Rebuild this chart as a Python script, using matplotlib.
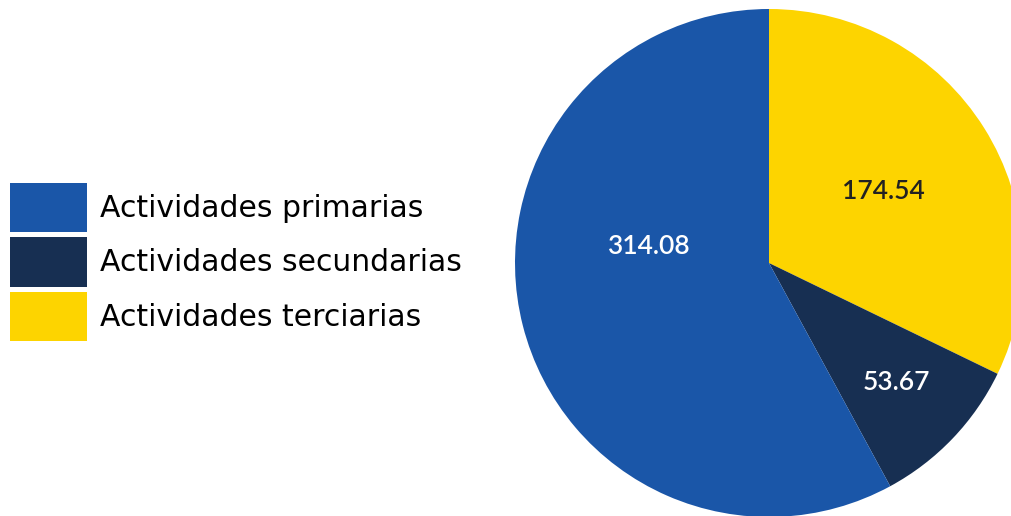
import matplotlib.pyplot as plt
import numpy as np

# slice data, in drawing order (clockwise from the top)
sectors = ["Actividades terciarias", "Actividades secundarias", "Actividades primarias"]
values = [174.54, 53.67, 314.08]
value_labels = ["174.54", "53.67", "314.08"]
colors = ["#fdd400", "#172f52", "#1a56a8"]
text_colors = ["#222222", "white", "white"]

# legend order as in the picture
legend_order = ["Actividades primarias", "Actividades secundarias", "Actividades terciarias"]

plt.rcParams["font.family"] = ["DejaVu Sans"]

fig = plt.figure(figsize=(10.12, 5.16), dpi=100)
W, H = 1012, 516
cx, cy, r = 769, 263, 254
ax = fig.add_axes([(cx - r) / W, (H - cy - r) / H, 2 * r / W, 2 * r / H])

wedges, _ = ax.pie(
    values,
    colors=colors,
    startangle=90,
    counterclock=False,
    radius=1,
    wedgeprops={"linewidth": 0},
)
ax.set_xlim(-1, 1)
ax.set_ylim(-1, 1)
ax.set_aspect("equal")
ax.axis("off")

# label placement: distance from centre and small angular nudge per slice
label_dist = [0.53, 0.69, 0.48]
label_nudge = [0, 0.5, -22]
for w, txt, tc, d, nd in zip(wedges, value_labels, text_colors, label_dist, label_nudge):
    ang = np.deg2rad((w.theta1 + w.theta2) / 2 + nd)
    ax.text(
        d * np.cos(ang),
        d * np.sin(ang),
        txt,
        ha="center",
        va="center",
        color=tc,
        fontsize=19,
        fontweight="semibold",
        family=["Lato", "DejaVu Sans"],
    )

handles = {s: w for s, w in zip(sectors, wedges)}
fig.legend(
    [handles[s] for s in legend_order],
    legend_order,
    loc="center left",
    bbox_to_anchor=(10 / W, (H - 262) / H),
    frameon=False,
    fontsize=21.5,
    handlelength=2.58,
    handleheight=2.15,
    labelspacing=0.18,
    handletextpad=0.44,
    borderpad=0,
    borderaxespad=0,
)

fig.savefig("out.png", dpi=100)
